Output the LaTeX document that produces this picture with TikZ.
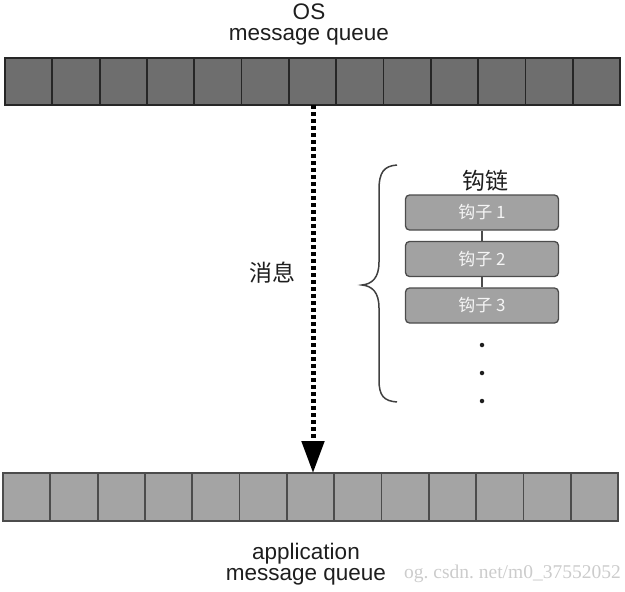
\documentclass[tikz,border=0pt]{standalone}
\usepackage{fontspec}
\setmainfont{Liberation Sans}
\newfontfamily\cjk{Noto Sans CJK SC}
\newfontfamily\wmfont{Liberation Serif}
\usetikzlibrary{arrows.meta}
\definecolor{topfill}{HTML}{6E6E6E}
\definecolor{botfill}{HTML}{A4A4A4}
\definecolor{hookfill}{HTML}{A2A2A2}
\definecolor{txt}{HTML}{1E1E1E}
\tikzset{
  topcell/.style={draw=black!85, line width=1.8pt, fill=topfill, minimum width=47.31pt, minimum height=47pt, inner sep=0pt, outer sep=0pt},
  botcell/.style={draw=black!70, line width=1.8pt, fill=botfill, minimum width=47.31pt, minimum height=48pt, inner sep=0pt, outer sep=0pt},
  hookbox/.style={draw=black!70, line width=1.3pt, fill=hookfill, rounded corners=4pt, minimum width=153pt, minimum height=35pt, inner sep=0pt, text=white!96!black, font=\cjk\fontsize{17}{19}\selectfont},
  lbl/.style={text=txt, font=\fontsize{22.5}{25}\selectfont, align=center, inner sep=0pt},
  cjklbl/.style={text=txt, font=\cjk\fontsize{23}{25}\selectfont, inner sep=0pt},
  msgarrow/.style={line width=5pt, dash pattern=on 4pt off 3pt, -{Triangle[length=32pt,width=22pt]}},
  dotn/.style={circle, fill=txt, inner sep=0pt, minimum size=4.5pt},
  link/.style={draw=black!70, line width=1.3pt}
}
\begin{document}
\begin{tikzpicture}[x=1pt,y=-1pt]
\useasboundingbox (0,0) rectangle (625,592);
% top queue
\foreach \i in {0,...,12}{
  \node[topcell] (t\i) at ({5+47.31*(\i+0.5)},81.5) {};
}
% bottom queue
\foreach \i in {0,...,12}{
  \node[botcell] (b\i) at ({3+47.31*(\i+0.5)},497) {};
}
\node[anchor=east, inner sep=0pt, text=black!20, font=\wmfont\fontsize{19.5}{21}\selectfont] (wm) at (621,574) {og.\ csdn.\ net/m0\_37552052};
\node[lbl] (ostitle) at (309,24.5) {OS\\[-4pt]message queue};
\node[lbl] (apptitle) at (306,564) {application\\[-4pt]message queue};
% arrow
\coordinate (astart) at (313,105);
\coordinate (aend) at (313,473);
\draw[msgarrow] (astart) -- (aend);
\node[cjklbl] (msg) at (272,273) {消息};
% hooks
\node[cjklbl] (chain) at (485,181) {钩链};
\node[hookbox] (h1) at (482,212.5) {钩子 1};
\node[hookbox] (h2) at (482,259) {钩子 2};
\node[hookbox] (h3) at (482,305.5) {钩子 3};
\draw[link] (h1) -- (h2);
\draw[link] (h2) -- (h3);
\node[dotn] (d1) at (482,345) {};
\node[dotn] (d2) at (482,373) {};
\node[dotn] (d3) at (482,401) {};
% brace
\draw[black!75, line width=1.5pt]
  (397,165) .. controls (384,166) and (379,172) .. (379,190)
  -- (379,262) .. controls (379,278) and (372,284) .. (362,285)
  .. controls (372,286) and (379,292) .. (379,308)
  -- (379,380) .. controls (379,396) and (384,401) .. (397,402);
\end{tikzpicture}
\end{document}
